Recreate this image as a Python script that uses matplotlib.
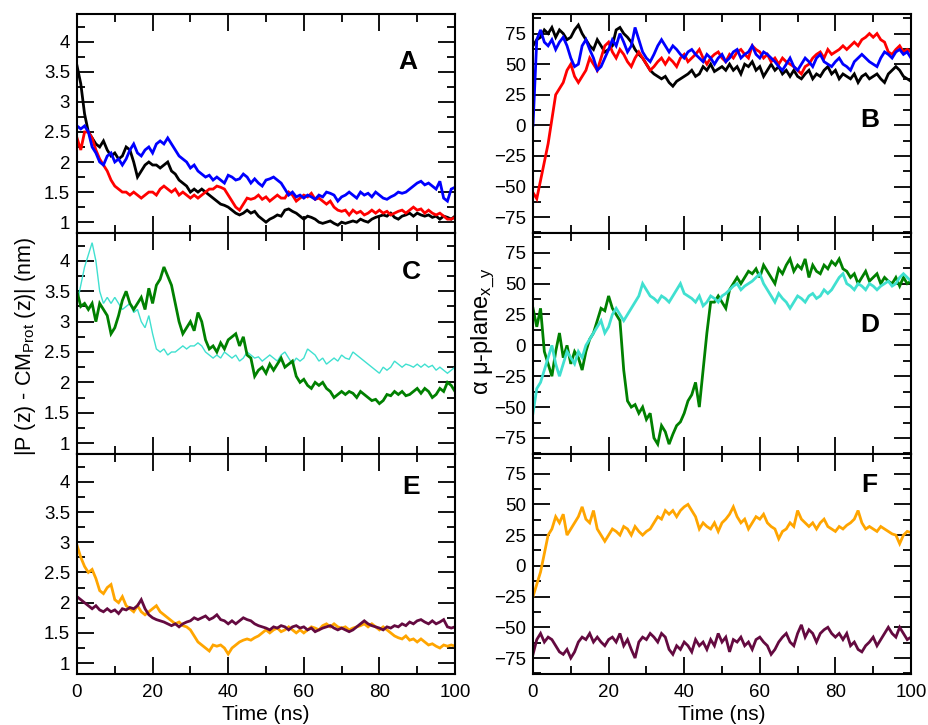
import numpy as np
import matplotlib
matplotlib.use('Agg')
import matplotlib.pyplot as plt
from matplotlib.ticker import MultipleLocator, FormatStrFormatter

plt.rcParams['font.family'] = ['Liberation Sans', 'DejaVu Sans']
plt.rcParams['mathtext.fontset'] = 'custom'
plt.rcParams['mathtext.rm'] = 'Liberation Sans'
plt.rcParams['mathtext.it'] = 'Liberation Sans:italic'

time_ns = np.arange(0, 101, 1)

# panel A: distance (nm)
a_black = [3.6, 3.3, 2.8, 2.5, 2.4, 2.3, 2.25, 2.35, 2.2, 2.1, 2.15, 2.05, 2.1, 2.25, 2.2, 2.0, 1.75,
           1.85, 1.95, 2.0, 1.95, 1.95, 1.9, 1.95, 2.0, 1.85, 1.8, 1.7, 1.65, 1.6, 1.5, 1.55, 1.5,
           1.55, 1.5, 1.45, 1.4, 1.35, 1.3, 1.28, 1.25, 1.2, 1.15, 1.12, 1.15, 1.2, 1.15, 1.18, 1.1,
           1.05, 1.0, 1.05, 1.08, 1.12, 1.1, 1.2, 1.22, 1.18, 1.15, 1.1, 1.05, 1.1, 1.08, 1.05, 1.0,
           0.98, 1.0, 1.02, 0.98, 0.95, 1.0, 0.98, 1.0, 1.02, 1.0, 1.05, 1.02, 1.0, 1.05, 1.08, 1.1,
           1.12, 1.1, 1.15, 1.08, 1.05, 1.1, 1.12, 1.15, 1.1, 1.15, 1.12, 1.1, 1.12, 1.08, 1.1, 1.05,
           1.1, 1.08, 1.05, 1.1]
a_red = [2.4, 2.2, 2.5, 2.5, 2.4, 2.2, 2.05, 1.95, 1.85, 1.7, 1.6, 1.55, 1.5, 1.5, 1.45, 1.5, 1.45,
         1.4, 1.45, 1.5, 1.5, 1.45, 1.55, 1.6, 1.55, 1.5, 1.55, 1.45, 1.5, 1.45, 1.4, 1.45, 1.4,
         1.45, 1.5, 1.55, 1.55, 1.6, 1.58, 1.55, 1.45, 1.35, 1.25, 1.2, 1.3, 1.4, 1.38, 1.4, 1.45,
         1.38, 1.42, 1.35, 1.4, 1.45, 1.4, 1.4, 1.5, 1.45, 1.35, 1.4, 1.45, 1.42, 1.48, 1.38, 1.4,
         1.35, 1.3, 1.35, 1.25, 1.2, 1.18, 1.2, 1.12, 1.2, 1.15, 1.18, 1.12, 1.15, 1.2, 1.15, 1.2,
         1.15, 1.18, 1.12, 1.15, 1.18, 1.2, 1.15, 1.2, 1.25, 1.2, 1.22, 1.15, 1.2, 1.15, 1.12, 1.15,
         1.1, 1.05, 1.05, 1.08]
a_blue = [2.6, 2.55, 2.6, 2.5, 2.25, 2.15, 2.0, 1.95, 2.1, 2.15, 2.0, 2.05, 1.95, 2.05, 2.2, 2.3, 2.15,
          2.1, 2.2, 2.25, 2.15, 2.3, 2.35, 2.3, 2.4, 2.3, 2.2, 2.1, 2.05, 2.0, 1.9, 1.95, 1.85, 1.8,
          1.75, 1.78, 1.7, 1.75, 1.7, 1.65, 1.78, 1.75, 1.7, 1.72, 1.8, 1.75, 1.65, 1.72, 1.65, 1.6,
          1.7, 1.72, 1.75, 1.7, 1.65, 1.55, 1.45, 1.5, 1.42, 1.45, 1.4, 1.45, 1.42, 1.38, 1.45, 1.42,
          1.5, 1.48, 1.45, 1.35, 1.42, 1.45, 1.5, 1.45, 1.4, 1.5, 1.45, 1.48, 1.42, 1.5, 1.45, 1.4,
          1.38, 1.42, 1.45, 1.5, 1.48, 1.5, 1.55, 1.6, 1.65, 1.68, 1.62, 1.65, 1.6, 1.55, 1.68, 1.4,
          1.35, 1.55, 1.58]

# panel B: angle (deg)
b_red = [-55, -60, -45, -30, -15, 5, 25, 30, 35, 45, 50, 40, 35, 40, 45, 55, 50, 45, 55, 65, 68, 60, 55,
         62, 58, 52, 48, 55, 60, 55, 50, 45, 48, 52, 55, 50, 55, 52, 48, 55, 58, 52, 55, 58, 62, 55, 50,
         55, 58, 60, 55, 52, 58, 55, 60, 62, 58, 55, 65, 62, 60, 55, 58, 52, 55, 50, 55, 52, 50, 48, 45,
         42, 48, 50, 55, 58, 60, 55, 62, 58, 60, 62, 65, 62, 65, 68, 65, 70, 72, 75, 72, 75, 70, 68, 60,
         58, 62, 65, 60, 62, 60]
b_black = [65, 70, 72, 78, 75, 80, 72, 78, 75, 70, 72, 78, 82, 75, 70, 65, 62, 70, 65, 60, 62, 65, 78,
           80, 75, 72, 68, 62, 58, 55, 50, 45, 42, 40, 38, 40, 35, 32, 36, 38, 40, 42, 45, 40, 42, 48,
           45, 50, 44, 46, 48, 45, 50, 45, 48, 42, 50, 48, 52, 45, 48, 40, 45, 50, 45, 48, 42, 45, 40,
           45, 40, 38, 42, 45, 38, 42, 40, 45, 48, 42, 45, 38, 42, 40, 38, 42, 35, 40, 42, 38, 40, 42,
           38, 35, 42, 45, 48, 45, 40, 38, 36]
b_blue = [0, 70, 78, 68, 65, 70, 62, 68, 72, 65, 55, 48, 50, 65, 70, 62, 55, 45, 48, 55, 62, 70, 65, 75,
          68, 60, 65, 80, 70, 60, 55, 52, 58, 65, 70, 65, 60, 65, 62, 58, 55, 60, 62, 58, 55, 52, 58, 55,
          50, 55, 58, 52, 55, 60, 62, 55, 58, 60, 65, 58, 55, 60, 58, 55, 52, 48, 45, 50, 55, 48, 45, 50,
          55, 52, 48, 55, 58, 52, 50, 48, 52, 55, 50, 48, 45, 52, 55, 58, 55, 52, 50, 48, 55, 60, 58, 55,
          60, 62, 58, 60, 55]

# panel C: distance (nm)
c_green = [3.5, 3.25, 3.3, 3.2, 3.3, 3.0, 3.3, 3.2, 3.1, 2.8, 2.9, 3.1, 3.35, 3.5, 3.3, 3.2, 3.3, 3.4,
           3.2, 3.55, 3.3, 3.6, 3.7, 3.9, 3.75, 3.6, 3.3, 3.0, 2.8, 2.9, 3.0, 2.85, 3.15, 3.0, 2.7, 2.55,
           2.6, 2.5, 2.65, 2.55, 2.7, 2.75, 2.8, 2.6, 2.75, 2.45, 2.4, 2.1, 2.2, 2.25, 2.15, 2.3, 2.2,
           2.3, 2.4, 2.25, 2.3, 2.35, 2.1, 2.0, 2.05, 1.95, 1.9, 2.0, 1.95, 2.0, 1.9, 1.85, 1.75, 1.8,
           1.85, 1.8, 1.85, 1.82, 1.75, 1.85, 1.8, 1.75, 1.7, 1.72, 1.65, 1.7, 1.8, 1.78, 1.85, 1.8,
           1.85, 1.78, 1.8, 1.85, 1.9, 1.82, 1.9, 1.85, 1.75, 1.8, 1.9, 1.85, 2.0, 1.95, 1.85]
c_cyan = [3.3, 3.6, 3.9, 4.1, 4.3, 4.0, 3.5, 3.3, 3.4, 3.3, 3.4, 3.3, 3.2, 3.25, 3.3, 3.15, 3.2, 3.0,
          2.9, 3.1, 2.8, 2.55, 2.5, 2.55, 2.45, 2.5, 2.5, 2.55, 2.6, 2.55, 2.6, 2.6, 2.65, 2.6, 2.5,
          2.45, 2.4, 2.45, 2.4, 2.5, 2.45, 2.4, 2.45, 2.35, 2.4, 2.5, 2.45, 2.4, 2.42, 2.35, 2.4, 2.45,
          2.4, 2.35, 2.45, 2.5, 2.4, 2.3, 2.4, 2.35, 2.4, 2.55, 2.5, 2.45, 2.35, 2.4, 2.3, 2.35, 2.4,
          2.35, 2.45, 2.4, 2.38, 2.5, 2.45, 2.4, 2.35, 2.3, 2.25, 2.2, 2.15, 2.25, 2.2, 2.25, 2.35,
          2.3, 2.25, 2.3, 2.28, 2.25, 2.3, 2.25, 2.3, 2.25, 2.28, 2.2, 2.25, 2.2, 2.15, 2.2, 2.25]

# panel D: angle (deg)
d_green = [30, 15, 30, -5, -15, -25, -5, 10, -10, 0, -15, -5, -10, -20, -5, 5, 10, 20, 30, 28, 40, 30,
           25, 20, -20, -45, -50, -48, -55, -50, -60, -55, -75, -80, -65, -70, -80, -72, -65, -62, -55,
           -45, -40, -30, -50, -20, 10, 35, 35, 40, 35, 30, 45, 50, 55, 50, 55, 60, 58, 62, 55, 65, 60,
           55, 50, 62, 58, 65, 70, 60, 65, 62, 70, 55, 65, 60, 58, 65, 62, 68, 65, 70, 62, 60, 55, 58,
           50, 55, 60, 52, 55, 58, 50, 55, 52, 50, 55, 48, 55, 50, 52]
d_cyan = [-55, -35, -30, -20, -10, 0, -15, -25, -15, -5, -10, -15, -5, -10, 0, 5, 10, 15, 20, 10, 15,
          25, 30, 25, 20, 25, 30, 35, 40, 50, 45, 40, 38, 35, 40, 38, 35, 40, 45, 50, 42, 40, 38, 35,
          40, 32, 35, 40, 38, 35, 40, 42, 45, 48, 50, 45, 48, 50, 52, 55, 58, 50, 45, 40, 35, 42, 38,
          35, 30, 35, 40, 38, 35, 40, 42, 38, 40, 45, 42, 45, 50, 55, 58, 50, 48, 45, 50, 48, 45, 50,
          48, 45, 48, 50, 52, 48, 50, 55, 58, 55, 52]

# panel E: distance (nm)
e_orange = [2.95, 2.75, 2.6, 2.5, 2.55, 2.4, 2.2, 2.15, 2.25, 2.3, 2.05, 2.0, 2.1, 1.95, 1.9, 1.85,
            1.95, 1.85, 1.8, 1.85, 1.9, 1.95, 1.85, 1.8, 1.75, 1.7, 1.65, 1.68, 1.62, 1.6, 1.55, 1.45,
            1.35, 1.3, 1.25, 1.2, 1.3, 1.28, 1.3, 1.25, 1.15, 1.25, 1.3, 1.35, 1.38, 1.4, 1.38, 1.42,
            1.45, 1.5, 1.55, 1.5, 1.55, 1.58, 1.52, 1.55, 1.6, 1.55, 1.5, 1.55, 1.5, 1.55, 1.6, 1.58,
            1.55, 1.62, 1.65, 1.6, 1.65, 1.6, 1.58, 1.6, 1.55, 1.58, 1.6, 1.62, 1.65, 1.6, 1.65, 1.6,
            1.55, 1.6, 1.55, 1.5, 1.45, 1.42, 1.4, 1.45, 1.38, 1.4, 1.35, 1.4, 1.35, 1.3, 1.32, 1.28,
            1.25, 1.3, 1.28, 1.3, 1.28]
e_purple = [2.1, 2.05, 2.0, 1.95, 1.9, 1.95, 1.88, 1.85, 1.9, 1.85, 1.88, 1.82, 1.9, 1.88, 1.92, 1.9,
            1.95, 2.05, 1.9, 1.8, 1.75, 1.72, 1.7, 1.68, 1.65, 1.62, 1.65, 1.6, 1.65, 1.68, 1.7, 1.75,
            1.72, 1.75, 1.78, 1.72, 1.75, 1.8, 1.72, 1.7, 1.65, 1.7, 1.65, 1.7, 1.75, 1.72, 1.7, 1.65,
            1.62, 1.6, 1.58, 1.55, 1.6, 1.58, 1.62, 1.6, 1.55, 1.6, 1.62, 1.58, 1.6, 1.55, 1.58, 1.52,
            1.55, 1.58, 1.6, 1.62, 1.58, 1.55, 1.58, 1.55, 1.52, 1.55, 1.6, 1.65, 1.7, 1.65, 1.62, 1.6,
            1.58, 1.55, 1.6, 1.58, 1.62, 1.6, 1.65, 1.62, 1.68, 1.65, 1.7, 1.72, 1.68, 1.65, 1.7, 1.65,
            1.68, 1.72, 1.6, 1.58, 1.6]

# panel F: angle (deg)
f_orange = [-25, -15, -5, 10, 25, 30, 40, 35, 42, 25, 30, 35, 40, 48, 38, 35, 45, 30, 25, 20, 25, 30,
            28, 25, 32, 30, 25, 32, 28, 25, 28, 30, 35, 40, 38, 45, 42, 45, 40, 45, 48, 50, 45, 40, 30,
            35, 32, 30, 35, 28, 35, 38, 42, 48, 40, 35, 38, 30, 35, 40, 38, 42, 35, 32, 30, 22, 28, 30,
            35, 32, 45, 38, 35, 32, 35, 30, 35, 38, 32, 30, 28, 32, 30, 33, 35, 38, 45, 35, 30, 32, 30,
            28, 32, 30, 28, 26, 25, 18, 25, 28, 27]
f_purple = [-72, -60, -55, -62, -58, -60, -65, -70, -72, -68, -75, -70, -62, -58, -60, -55, -62, -58,
            -62, -65, -60, -58, -62, -55, -65, -60, -68, -75, -62, -58, -60, -55, -58, -62, -55, -58,
            -68, -72, -65, -68, -62, -65, -70, -60, -65, -62, -68, -60, -65, -55, -62, -58, -70, -60,
            -62, -58, -65, -62, -68, -60, -58, -62, -65, -72, -68, -62, -58, -55, -62, -65, -55, -48,
            -58, -52, -55, -62, -55, -52, -50, -55, -58, -55, -60, -55, -65, -62, -68, -70, -65, -62,
            -58, -65, -60, -55, -50, -55, -58, -50, -55, -60, -58]

BLACK = 'black'
RED = '#ff0000'
BLUE = '#0000ff'
GREEN = '#008000'
CYAN = '#40e0d0'
ORANGE = '#ffa500'
PURPLE = '#640a40'

panels = [
    ('A', 0, 0, [(a_black, BLACK, 2.0), (a_red, RED, 2.0), (a_blue, BLUE, 2.0)], (0.876, 0.78)),
    ('B', 1, 0, [(b_black, BLACK, 2.0), (b_red, RED, 2.0), (b_blue, BLUE, 2.0)], (0.892, 0.514)),
    ('C', 0, 1, [(c_cyan, CYAN, 1.0), (c_green, GREEN, 2.0)], (0.884, 0.823)),
    ('D', 1, 1, [(d_green, GREEN, 2.0), (d_cyan, CYAN, 2.0)], (0.892, 0.584)),
    ('E', 0, 2, [(e_orange, ORANGE, 2.0), (e_purple, PURPLE, 2.0)], (0.884, 0.85)),
    ('F', 1, 2, [(f_orange, ORANGE, 2.0), (f_purple, PURPLE, 2.0)], (0.889, 0.859)),
]

W, H = 929, 725
fig = plt.figure(figsize=(W / 100, H / 100), dpi=100)
col_left = [77, 533]
ax_w = 378
row_top = [14, 233, 454]
row_h = [219, 221, 220]

for letter, col, row, series, (lx, ly) in panels:
    x0 = col_left[col]
    y0 = row_top[row] + row_h[row]
    ax = fig.add_axes([x0 / W, 1 - y0 / H, ax_w / W, row_h[row] / H])
    for values, color, lw in series:
        ax.plot(time_ns, values, color=color, linewidth=lw, solid_joinstyle='miter')
    ax.set_xlim(0, 100)
    ax.xaxis.set_major_locator(MultipleLocator(20))
    ax.xaxis.set_minor_locator(MultipleLocator(10))
    if col == 0:
        ax.set_ylim(0.82, 4.46)
        ax.yaxis.set_major_locator(MultipleLocator(0.5))
        ax.yaxis.set_minor_locator(MultipleLocator(0.25))
        ax.yaxis.set_major_formatter(FormatStrFormatter('%g'))
    else:
        ax.set_ylim(-88, 91)
        ax.yaxis.set_major_locator(MultipleLocator(25))
        ax.yaxis.set_minor_locator(MultipleLocator(12.5))
    ax.tick_params(which='both', direction='in', top=True, right=True,
                   labelsize=13.5, width=1.3, pad=5)
    ax.tick_params(which='major', length=12)
    ax.tick_params(which='minor', length=6)
    if row < 2:
        ax.tick_params(labelbottom=False)
    else:
        ax.tick_params(axis='x', pad=7)
        ax.set_xlabel('Time (ns)', fontsize=15, labelpad=3)
    for sp in ax.spines.values():
        sp.set_linewidth(1.5)
    ax.text(lx, ly, letter, transform=ax.transAxes, fontsize=19,
            fontweight='bold', ha='center', va='center')

fig.text(26 / W, 1 - 346 / H, r'|P (z) - CM$_{\rm Prot}$ (z)| (nm)',
         rotation=90, ha='center', va='center', fontsize=15.5)
fig.text(483 / W, 1 - 331 / H, r'α μ-plane$_{\rm x\_y}$',
         rotation=90, ha='center', va='center', fontsize=17)

fig.savefig('out.png', dpi=100)
